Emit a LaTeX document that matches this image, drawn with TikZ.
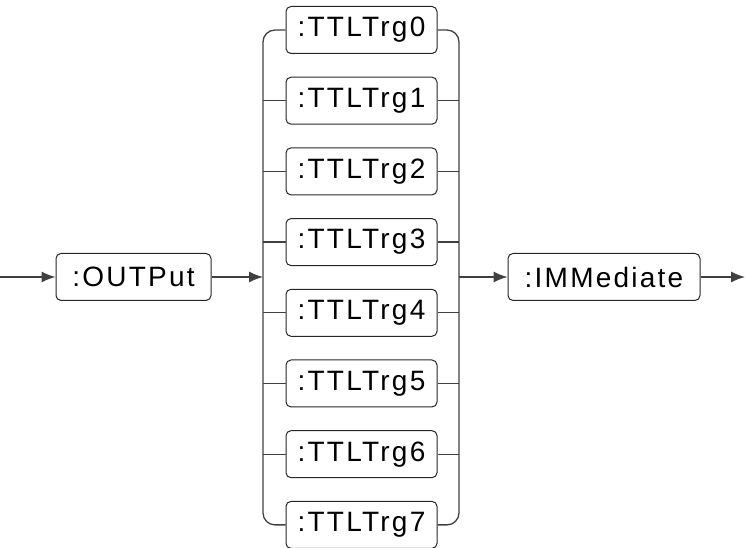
\documentclass[tikz,border=0pt]{standalone}
\usepackage{fontspec}
\setmainfont[LetterSpace=8]{Liberation Sans}
\usetikzlibrary{arrows.meta}

\begin{document}
\begin{tikzpicture}[x=1pt,y=1pt]
		\tikzset{
  cmd/.style={
         rectangle,
         rounded corners=5pt,
         draw=black!85, line width=1pt,
         minimum height=47pt,
         minimum width=151pt,
         inner sep=0,
         font=\fontsize{28}{30}\selectfont,
         text centered,
         },
  rail/.style={
         draw=black!75, line width=1.3pt,
         },
  flow/.style={
         rail,
         -{Latex[length=14pt,width=11pt]},
         },
}
    \useasboundingbox (0,0) rectangle (745,548);

    \coordinate (start) at (0,271);
    \coordinate (split) at (263,271);
    \coordinate (join) at (459,271);
    \coordinate (stop) at (745,271);

    \node[cmd, minimum width=155pt] (output) at (133.5,271) {:OUTPut};

    \node[cmd] (trg0) at (361.5,518) {:TTLTrg0};
    \node[cmd,
      below of=trg0,
      node distance=70.7pt,
      anchor=center] (trg1) {:TTLTrg1};
    \node[cmd,
      below of=trg1,
      node distance=70.7pt,
      anchor=center] (trg2) {:TTLTrg2};
    \node[cmd,
      below of=trg2,
      node distance=70.7pt,
      anchor=center] (trg3) {:TTLTrg3};
    \node[cmd,
      below of=trg3,
      node distance=70.7pt,
      anchor=center] (trg4) {:TTLTrg4};
    \node[cmd,
      below of=trg4,
      node distance=70.7pt,
      anchor=center] (trg5) {:TTLTrg5};
    \node[cmd,
      below of=trg5,
      node distance=70.7pt,
      anchor=center] (trg6) {:TTLTrg6};
    \node[cmd,
      below of=trg6,
      node distance=70.7pt,
      anchor=center] (trg7) {:TTLTrg7};

    \node[cmd, minimum width=192pt] (immediate) at (604,271) {:IMMediate};


    \draw[flow] (start) -- (output.west);
    \draw[flow] (output.east) -- (split);

    % the two brackets round the choice
    \draw[rail, rounded corners=12pt] (trg0.west) -| (split) |- (trg7.west);
    \draw[rail, rounded corners=12pt] (trg0.east) -| (join) |- (trg7.east);

    \draw[rail] (split |- trg1.west) -- (trg1.west);
    \draw[rail] (split |- trg2.west) -- (trg2.west);
    \draw[rail] (split |- trg3.west) -- (trg3.west);
    \draw[rail] (split |- trg4.west) -- (trg4.west);
    \draw[rail] (split |- trg5.west) -- (trg5.west);
    \draw[rail] (split |- trg6.west) -- (trg6.west);

    \draw[rail] (trg1.east) -- (join |- trg1.east);
    \draw[rail] (trg2.east) -- (join |- trg2.east);
    \draw[rail] (trg3.east) -- (join |- trg3.east);
    \draw[rail] (trg4.east) -- (join |- trg4.east);
    \draw[rail] (trg5.east) -- (join |- trg5.east);
    \draw[rail] (trg6.east) -- (join |- trg6.east);

    \draw[flow] (join) -- (immediate.west);
    \draw[flow] (immediate.east) -- (stop);

	\end{tikzpicture}
\end{document}
